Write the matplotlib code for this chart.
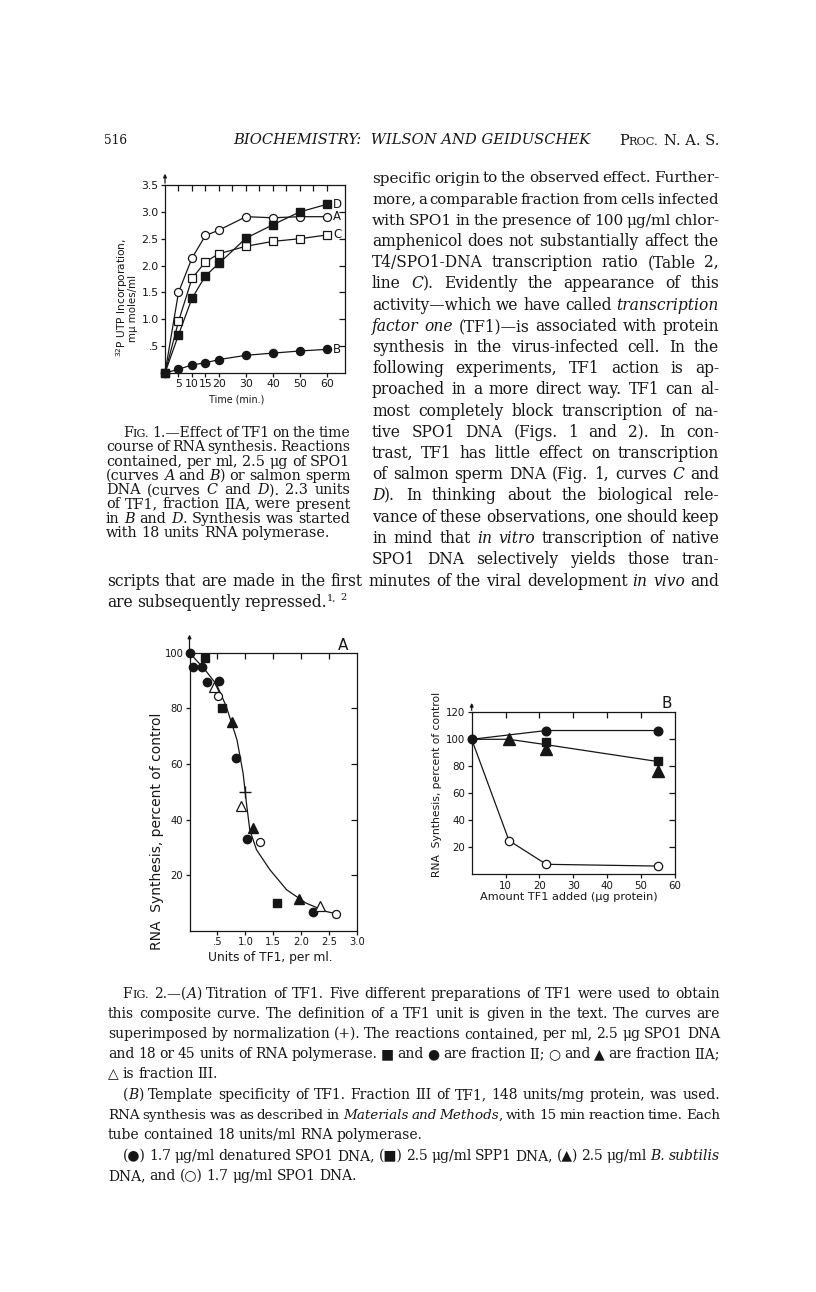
import re
import matplotlib
matplotlib.use("Agg")
import matplotlib.pyplot as plt

# ---------------- data ----------------
# Fig. 1: time course (min) vs 32P UTP incorporation (mmu moles/ml)
time_min = [0, 5, 10, 15, 20, 30, 40, 50, 60]
curve_A = [0, 1.50, 2.14, 2.56, 2.66, 2.91, 2.89, 2.91, 2.91]   # open circles
curve_B = [0, 0.07, 0.15, 0.19, 0.25, 0.33, 0.37, 0.41, 0.44]   # filled circles
curve_C = [0, 0.96, 1.76, 2.07, 2.22, 2.36, 2.45, 2.50, 2.57]   # open squares
curve_D = [0, 0.71, 1.39, 1.81, 2.04, 2.51, 2.76, 3.00, 3.14]   # filled squares
fig1_xticks = [5, 10, 15, 20, 30, 40, 50, 60]
fig1_yticks = [0.5, 1.0, 1.5, 2.0, 2.5, 3.0, 3.5]
fig1_yticklabels = [".5", "1.0", "1.5", "2.0", "2.5", "3.0", "3.5"]

# Fig. 2A: units of TF1 per ml vs RNA synthesis (% of control)
a_fcirc_x = [0, 0.06, 0.22, 0.31, 0.53, 0.83, 1.03, 2.21]
a_fcirc_y = [100, 95, 95, 89.5, 90, 62, 33, 7]
a_fsq_x = [0.28, 0.59, 1.56]
a_fsq_y = [98, 80, 10]
a_otri_x = [0.43, 0.93, 2.33]
a_otri_y = [87.5, 45, 9]
a_ocirc_x = [0.51, 1.26, 2.63]
a_ocirc_y = [84.5, 32, 6]
a_ftri_x = [0.77, 1.14, 1.96]
a_ftri_y = [75, 37, 11.5]
a_plus_x = [1.0]
a_plus_y = [50]
a_curve_x = [0, 0.28, 0.49, 0.66, 0.85, 0.96, 1.02, 1.08, 1.2, 1.44, 1.74, 2.09, 2.45, 2.63]
a_curve_y = [100, 93.8, 88.4, 80.6, 68.7, 56.7, 45.9, 36.3, 29.2, 22, 14.8, 10, 7, 6.2]
fig2a_xticks = [0.5, 1.0, 1.5, 2.0, 2.5, 3.0]
fig2a_xticklabels = [".5", "1.0", "1.5", "2.0", "2.5", "3.0"]
fig2a_yticks = [20, 40, 60, 80, 100]

# Fig. 2B: amount TF1 added (ug protein) vs RNA synthesis (% of control)
b_fcirc_x = [0, 22, 55]
b_fcirc_y = [100, 106.5, 106.5]
b_fsq_x = [22, 55]
b_fsq_y = [98, 84]
b_ftri_x = [11, 22, 55]
b_ftri_y = [100, 92.5, 76.5]
b_tri_line_x = [0, 11, 22, 55]
b_tri_line_y = [100, 100, 96, 83.5]
b_ocirc_x = [0, 11, 22, 55]
b_ocirc_y = [100, 25, 7.4, 6.1]
fig2b_xticks = [10, 20, 30, 40, 50, 60]
fig2b_yticks = [20, 40, 60, 80, 100, 120]

# ---------------- page ----------------
W, H = 816, 1292
fig = plt.figure(figsize=(W / 100, H / 100), dpi=100)
fig.patch.set_facecolor("white")
page = fig.add_axes([0, 0, 1, 1])
page.set_xlim(0, W)
page.set_ylim(H, 0)
page.axis("off")
renderer = fig.canvas.get_renderer()

SERIF = ["DejaVu Serif", "DejaVu Sans"]
SANS = "DejaVu Sans"
INK = "#161616"


def make_seg(txt, style, fs, x, y):
    kw = dict(family=SERIF, fontsize=fs, va="baseline", ha="left", color=INK)
    if style == "i":
        kw["style"] = "italic"
    elif style == "s":
        kw["fontsize"] = fs * 0.8
    elif style == "u":
        kw["fontsize"] = fs * 0.62
        y = y - fs * 0.42 * 100 / 72
    return page.text(x, y, txt, **kw)


def parse(word):
    segs = []
    for m in re.finditer(r"\*([^*]+)\*|\^([^^]+)\^|%([^%]+)%|([^*^%]+)", word):
        if m.group(1):
            segs.append((m.group(1), "i"))
        elif m.group(2):
            segs.append((m.group(2), "u"))
        elif m.group(3):
            segs.append((m.group(3), "s"))
        else:
            segs.append((m.group(4), "n"))
    return segs


def word_widths(line, fs):
    out = []
    for w in line.split():
        tot = 0
        for s, st in parse(w):
            t = make_seg(s, st, fs, 0, 0)
            tot += t.get_window_extent(renderer).width
            t.remove()
        out.append(tot)
    return out


MIN_GAP = 0.22


def draw_line(line, x0, x1, y, fs, justify=True):
    words = line.split()
    if justify and len(words) > 1:
        ws = word_widths(line, fs)
        em = fs * 100 / 72
        need = sum(ws) + (len(ws) - 1) * MIN_GAP * em
        if need > x1 - x0:
            fs = fs * (x1 - x0) / need
            ws = word_widths(line, fs)
        gap = (x1 - x0 - sum(ws)) / (len(words) - 1)
    else:
        gap = 0.28 * fs * 100 / 72
    x = x0
    for w in words:
        for s, st in parse(w):
            t = make_seg(s, st, fs, x, y)
            x += t.get_window_extent(renderer).width
        x += gap


def block_fs(specs, x1, q):
    ratios = []
    for line, x0, just in specs:
        if not just:
            continue
        ws = word_widths(line, 10)
        nat = sum(ws) + (len(ws) - 1) * 0.28 * 10 * 100 / 72
        ratios.append((x1 - x0) / nat)
    ratios.sort()
    return 10 * ratios[int(q * (len(ratios) - 1))]


def draw_block(lines, x0, x1, ys, fs=None, indent=0.0, q=0.3):
    specs = []
    for line, just, ind in lines:
        specs.append((line, x0 + (indent if ind else 0), just))
    if fs is None:
        fs = block_fs(specs, x1, q)
    for (line, xs, just), y in zip(specs, ys):
        draw_line(line, xs, x1, y, fs, just)
    return fs


def fit_text(x, y, s, length, rotation=0, **kw):
    t = page.text(x, y, s, fontsize=10, rotation=rotation, ha="center", va="center",
                  color=INK, **kw)
    bb = t.get_window_extent(renderer)
    L = bb.height if rotation == 90 else bb.width
    t.set_fontsize(10 * length / L)
    return t


# ---------------- header ----------------
fit_text(115.5, 140, "516", 23, family=SERIF)
fit_text(411.5, 140, "BIOCHEMISTRY:  WILSON AND GEIDUSCHEK", 357, family=SERIF, style="italic")
hdr = page.text(619, 145, "P", family=SERIF, fontsize=10.5, va="baseline", color=INK)
x = 619 + hdr.get_window_extent(renderer).width
hdr2 = page.text(x, 145, "ROC.", family=SERIF, fontsize=8.2, va="baseline", color=INK)
x += hdr2.get_window_extent(renderer).width + 5
page.text(x, 145, "N. A. S.", family=SERIF, fontsize=10.5, va="baseline", color=INK)

# ---------------- right column body text ----------------
body = [
    ("specific origin to the observed effect.  Further-", True, False),
    ("more, a comparable fraction from cells infected", True, False),
    ("with SPO1 in the presence of 100 μg/ml chlor-", True, False),
    ("amphenicol does not substantially affect the", True, False),
    ("T4/SPO1-DNA transcription ratio (Table 2,", True, False),
    ("line *C*).  Evidently the appearance of this", True, False),
    ("activity—which we have called *transcription*", True, False),
    ("*factor* *one* (TF1)—is associated with protein", True, False),
    ("synthesis in the virus-infected cell.  In the", True, False),
    ("following experiments, TF1 action is ap-", True, False),
    ("proached in a more direct way.  TF1 can al-", True, False),
    ("most completely block transcription of na-", True, False),
    ("tive SPO1 DNA (Figs. 1 and 2).  In con-", True, False),
    ("trast, TF1 has little effect on transcription", True, False),
    ("of salmon sperm DNA (Fig. 1, curves *C* and", True, False),
    ("*D*).  In thinking about the biological rele-", True, False),
    ("vance of these observations, one should keep", True, False),
    ("in mind that *in* *vitro* transcription of native", True, False),
    ("SPO1 DNA selectively yields those tran-", True, False),
]
body_y = [182.5 + 21.2 * i for i in range(len(body))]
fs_body = draw_block(body, 372, 719, body_y)
draw_line("scripts that are made in the first minutes of the viral development *in* *vivo* and",
          107, 719, 585.5, fs_body, True)
draw_line("are subsequently repressed.^1,^ ^2^", 107, 719, 607, fs_body, False)

# ---------------- Fig. 1 caption ----------------
cap1 = [
    ("F%IG.% 1.—Effect of TF1 on the time", True, True),
    ("course of RNA synthesis.  Reactions", True, False),
    ("contained, per ml, 2.5 μg of SPO1", True, False),
    ("(curves *A* and *B*) or salmon sperm", True, False),
    ("DNA (curves *C* and *D*).  2.3 units", True, False),
    ("of TF1, fraction IIA, were present", True, False),
    ("in *B* and *D*.  Synthesis was started", True, False),
    ("with 18 units RNA polymerase.", False, False),
]
cap1_y = [437 + 14.3 * i for i in range(len(cap1))]
draw_block(cap1, 106, 350.5, cap1_y, indent=17, q=0.6)

# ---------------- Fig. 2 caption ----------------
cap2 = [
    ("F%IG.% 2.—(*A*) Titration of TF1.  Five different preparations of TF1 were used to obtain", True, True),
    ("this composite curve.  The definition of a TF1 unit is given in the text.  The curves are", True, False),
    ("superimposed by normalization (+).  The reactions contained, per ml, 2.5 μg SPO1 DNA", True, False),
    ("and 18 or 45 units of RNA polymerase.  ■ and ● are fraction II; ○ and ▲ are fraction IIA;", True, False),
    ("△ is fraction III.", False, False),
    ("(*B*) Template specificity of TF1.  Fraction III of TF1, 148 units/mg protein, was used.", True, True),
    ("RNA synthesis was as described in *Materials* *and* *Methods*, with 15 min reaction time.  Each", True, False),
    ("tube contained 18 units/ml RNA polymerase.", False, False),
    ("(●) 1.7 μg/ml denatured SPO1 DNA, (■) 2.5 μg/ml SPP1 DNA, (▲) 2.5 μg/ml *B.* *subtilis*", True, True),
    ("DNA, and (○) 1.7 μg/ml SPO1 DNA.", False, False),
]
cap2_y = [998, 1018, 1038, 1058, 1078, 1099, 1119, 1139, 1160, 1180]
draw_block(cap2, 108, 720, cap2_y, indent=14.5, q=0.5)


# ---------------- chart helpers ----------------
def add_ax(l, t, r, b):
    return fig.add_axes([l / W, 1 - b / H, (r - l) / W, (b - t) / H])


def style_ax(ax, xticks, xlabels, yticks, ylabels, top_ticks, right_ticks, fs):
    for sp in ax.spines.values():
        sp.set_linewidth(0.9)
        sp.set_color(INK)
    ax.set_xticks(xticks)
    ax.set_xticklabels(xlabels, fontsize=fs, family=SANS, color=INK)
    ax.set_yticks(yticks)
    ax.set_yticklabels(ylabels, fontsize=fs, family=SANS, color=INK)
    ax.tick_params(axis="both", direction="out", length=3, width=0.9, pad=1.5,
                   top=False, right=False, colors=INK)
    sx = ax.secondary_xaxis("top")
    sx.set_xticks(top_ticks)
    sx.tick_params(direction="in", length=4, width=0.9, labeltop=False, colors=INK)
    sx.spines["top"].set_visible(False)
    sy = ax.secondary_yaxis("right")
    sy.set_yticks(right_ticks)
    sy.tick_params(direction="in", length=4, width=0.9, labelright=False, colors=INK)
    sy.spines["right"].set_visible(False)
    ax.annotate("", xy=(0, 1.075), xycoords="axes fraction", xytext=(0, 0.995),
                arrowprops=dict(arrowstyle="-|>", lw=0.9, color=INK, mutation_scale=5),
                annotation_clip=False)


LW = 0.9

# ---------------- Fig. 1 ----------------
ax1 = add_ax(165, 185, 345, 373)
ax1.set_xlim(0, 66.7)
ax1.set_ylim(0, 3.5)
style_ax(ax1, fig1_xticks, [str(v) for v in fig1_xticks], fig1_yticks, fig1_yticklabels,
         [5, 10, 15, 20, 25, 30, 35, 40, 45, 50, 55, 60], [0.5, 1.0, 1.5, 2.0, 2.5, 3.0], 7.8)
ms1 = 5.8
ax1.plot(time_min, curve_A, "-o", color=INK, lw=LW, ms=ms1, mfc="white", mec=INK, mew=0.9, clip_on=False, zorder=3)
ax1.plot(time_min, curve_C, "-s", color=INK, lw=LW, ms=ms1, mfc="white", mec=INK, mew=0.9, clip_on=False, zorder=3)
ax1.plot(time_min, curve_D, "-s", color=INK, lw=LW, ms=ms1, mfc=INK, mec=INK, clip_on=False, zorder=4)
ax1.plot(time_min, curve_B, "-o", color=INK, lw=LW, ms=ms1, mfc=INK, mec=INK, clip_on=False, zorder=4)
for lab, yv in zip(["D", "A", "C", "B"], [curve_D[-1], curve_A[-1], curve_C[-1], curve_B[-1]]):
    ax1.text(63.8, yv, lab, fontsize=8.5, family=SANS, va="center", ha="center", color=INK)
fit_text(236.5, 400, "Time (min.)", 55, family=SANS)
fit_text(121.7, 297, "$^{32}$P UTP Incorporation,", 119, rotation=90, family=SANS)
fit_text(133, 308, "mμ moles/ml", 67, rotation=90, family=SANS)

# ---------------- Fig. 2A ----------------
ax2 = add_ax(189.5, 652.7, 357, 931)
ax2.set_xlim(0, 3.0)
ax2.set_ylim(0, 100)
style_ax(ax2, fig2a_xticks, fig2a_xticklabels, fig2a_yticks, [str(v) for v in fig2a_yticks],
         [0.5, 1.0, 1.5, 2.0, 2.5], [20, 40, 60, 80], 7.2)
ax2.plot(a_curve_x, a_curve_y, "-", color=INK, lw=LW, zorder=2)
ax2.plot(a_fcirc_x, a_fcirc_y, "o", ms=6, mfc=INK, mec=INK, ls="none", clip_on=False, zorder=4)
ax2.plot(a_fsq_x, a_fsq_y, "s", ms=5.6, mfc=INK, mec=INK, ls="none", clip_on=False, zorder=4)
ax2.plot(a_otri_x, a_otri_y, "^", ms=7.2, mfc="white", mec=INK, mew=0.9, ls="none", clip_on=False, zorder=4)
ax2.plot(a_ocirc_x, a_ocirc_y, "o", ms=5.8, mfc="white", mec=INK, mew=0.9, ls="none", clip_on=False, zorder=4)
ax2.plot(a_ftri_x, a_ftri_y, "^", ms=7.5, mfc=INK, mec=INK, ls="none", clip_on=False, zorder=4)
ax2.plot(a_plus_x, a_plus_y, "+", ms=8, mec=INK, mew=1.0, ls="none", zorder=4)
page.text(343.3, 645, "A", family=SANS, fontsize=11, ha="center", va="center", color=INK)
fit_text(270.5, 957, "Units of TF1, per ml.", 125, family=SANS)
fit_text(157.3, 831.7, "RNA  Synthesis, percent of control", 238, rotation=90, family=SANS)

# ---------------- Fig. 2B ----------------
ax3 = add_ax(471.7, 712.3, 675, 874.3)
ax3.set_xlim(0, 60)
ax3.set_ylim(0, 120)
style_ax(ax3, fig2b_xticks, [str(v) for v in fig2b_xticks], fig2b_yticks, [str(v) for v in fig2b_yticks],
         [10, 20, 30, 40, 50], [20, 40, 60, 80, 100], 7.4)
ax3.plot(b_fcirc_x, b_fcirc_y, "-", color=INK, lw=LW, zorder=2)
ax3.plot(b_tri_line_x, b_tri_line_y, "-", color=INK, lw=LW, zorder=2)
ax3.plot(b_ocirc_x, b_ocirc_y, "-", color=INK, lw=LW, zorder=2)
ax3.plot(b_ocirc_x[1:], b_ocirc_y[1:], "o", ms=6, mfc="white", mec=INK, mew=0.9, ls="none", clip_on=False, zorder=4)
ax3.plot(b_fsq_x, b_fsq_y, "s", ms=6, mfc=INK, mec=INK, ls="none", clip_on=False, zorder=4)
ax3.plot(b_ftri_x, b_ftri_y, "^", ms=8.5, mfc=INK, mec=INK, ls="none", clip_on=False, zorder=4)
ax3.plot(b_fcirc_x, b_fcirc_y, "o", ms=6.2, mfc=INK, mec=INK, ls="none", clip_on=False, zorder=5)
page.text(666.7, 703.3, "B", family=SANS, fontsize=11, ha="center", va="center", color=INK)
fit_text(569, 897, "Amount TF1 added (μg protein)", 178, family=SANS)
fit_text(436.7, 784, "RNA  Synthesis, percent of control", 185, rotation=90, family=SANS)

fig.savefig("out.png", dpi=100, facecolor="white")
